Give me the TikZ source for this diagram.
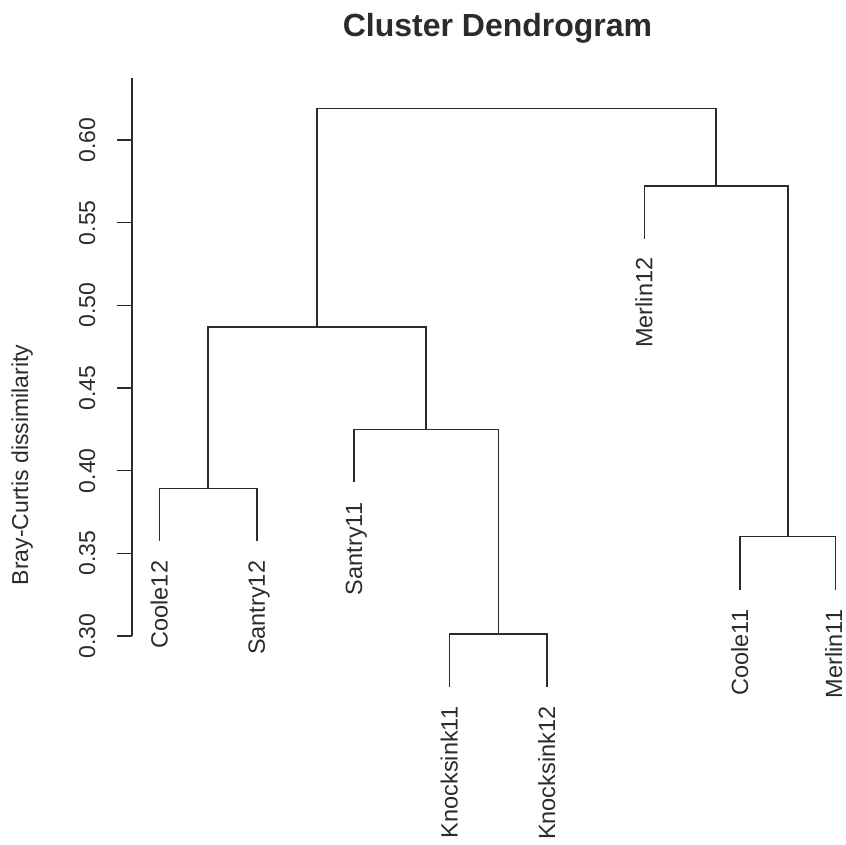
\documentclass[tikz,border=0pt]{standalone}
\usepackage{fontspec}
\setmainfont{Liberation Sans}
\definecolor{ink}{HTML}{2B2B2B}
\begin{document}
\begin{tikzpicture}[x=1pt,y=-1pt,
  branch/.style={line width=1.5pt, draw=ink, line cap=rect},
  axisline/.style={line width=1.4pt, draw=ink},
  leaflab/.style={rotate=90, anchor=base east, inner sep=0pt, text=ink,
                  font=\fontsize{23.5}{28}\selectfont},
  ticklab/.style={rotate=90, anchor=base, inner sep=0pt, text=ink,
                  font=\fontsize{23}{28}\selectfont},
  titlelab/.style={anchor=base, inner sep=0pt, text=ink,
                  font=\fontsize{32}{38}\selectfont\bfseries}]
\useasboundingbox (0,0) rectangle (846,845);

% title
\node[titlelab] (title) at (497.5,37) {Cluster Dendrogram};

% y axis
\coordinate (atop) at (132,78);
\coordinate (abot) at (132,636);
\draw[axisline] (atop) -- (abot);
\foreach \v/\lab [count=\i from 0] in {636/0.30,553.3/0.35,470.7/0.40,388/0.45,305.3/0.50,222.7/0.55,140/0.60}{
  \coordinate (t\i) at (132,\v);
  \coordinate (tl\i) at (117,\v);
  \draw[axisline] (t\i) -- (tl\i);
  \node[ticklab] (tick\i) at (95,\v) {\lab};
}
\node[ticklab] (ylab) at (28,465) {Bray-Curtis dissimilarity};

% leaf tips
\coordinate (c12) at (159.5,540.7);
\coordinate (s12) at (256.8,540.7);
\coordinate (s11) at (354,481.7);
\coordinate (k11) at (449.7,686.4);
\coordinate (k12) at (547,686.4);
\coordinate (m12) at (644.3,238.4);
\coordinate (c11) at (740,589);
\coordinate (m11) at (835.5,589);

% merges
\coordinate (mk)   at (498.35,634);
\coordinate (mcs)  at (208.15,488.3);
\coordinate (msk)  at (426.2,429.3);
\coordinate (mL)   at (317.2,327);
\coordinate (mcm)  at (787.75,536.5);
\coordinate (mM)   at (716,186);
\coordinate (mTop) at (516.6,108.3);

\draw[branch] (k11) |- (mk) -| (k12);
\draw[branch] (s11) |- (msk) -| (mk);
\draw[branch] (c12) |- (mcs) -| (s12);
\draw[branch] (mcs) |- (mL) -| (msk);
\draw[branch] (c11) |- (mcm) -| (m11);
\draw[branch] (m12) |- (mM) -| (mcm);
\draw[branch] (mL) |- (mTop) -| (mM);

% leaf labels
\node[leaflab] (Lc12) at (167.5,560.7) {Coole12};
\node[leaflab] (Ls12) at (264.8,560.7) {Santry12};
\node[leaflab] (Ls11) at (362,502.5) {Santry11};
\node[leaflab] (Lk11) at (457.7,706.5) {Knocksink11};
\node[leaflab] (Lk12) at (555,706.5) {Knocksink12};
\node[leaflab] (Lm12) at (652.3,257.5) {Merlin12};
\node[leaflab] (Lc11) at (748,609.5) {Coole11};
\node[leaflab] (Lm11) at (842,609.5) {Merlin11};
\end{tikzpicture}
\end{document}
